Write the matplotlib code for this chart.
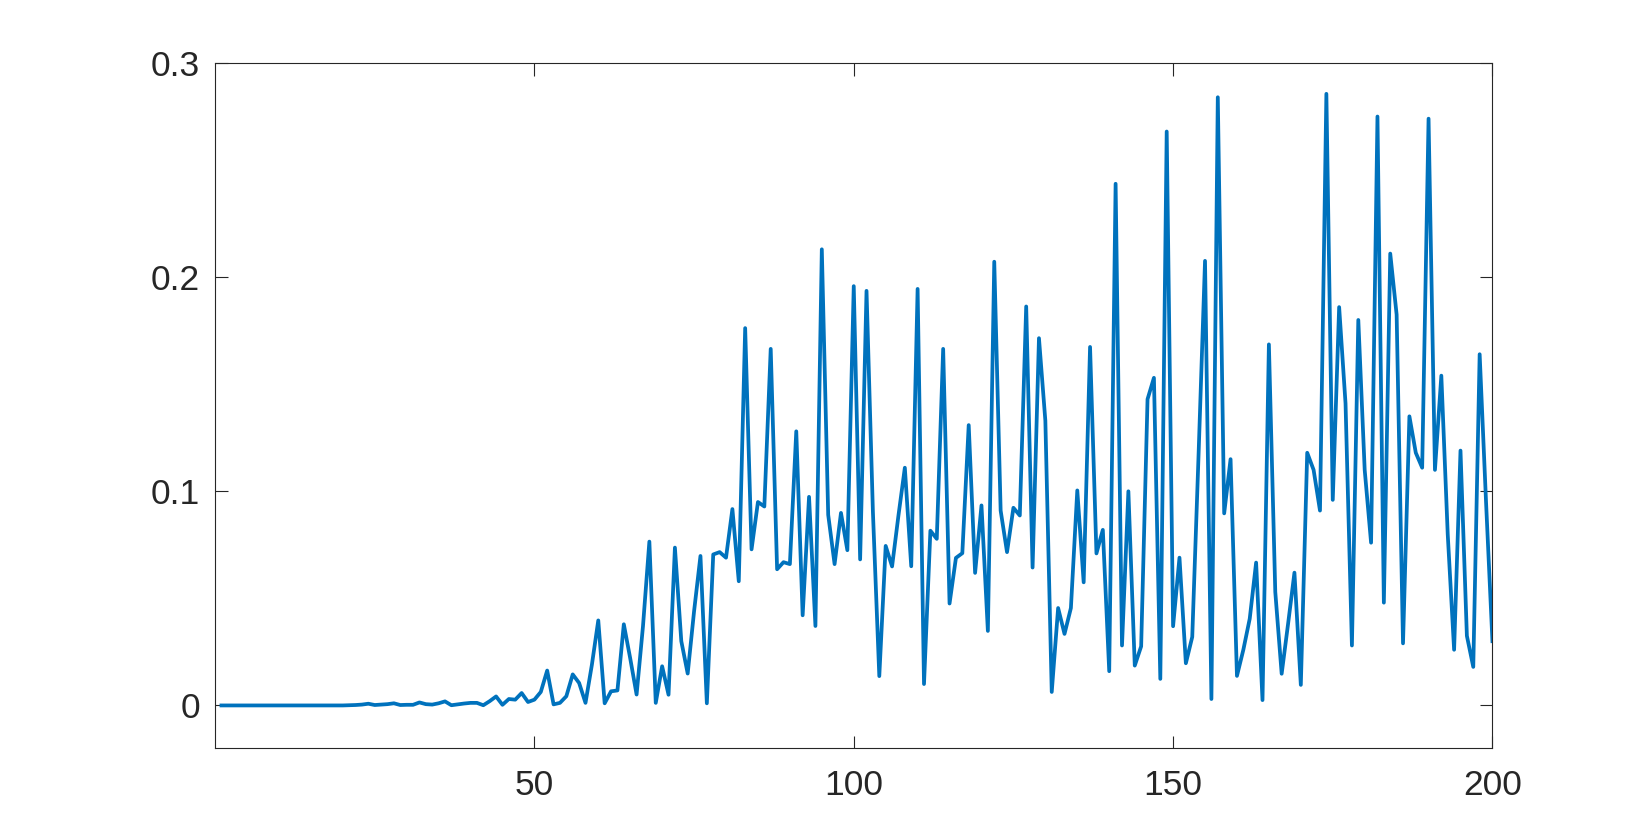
import numpy as np
import matplotlib.pyplot as plt

# DATA (x = 1..200)
x = np.arange(1, 201)
y_start = [0.0] * 20
y_21_60 = [0.0001, 0.0002, 0.0004, 0.0008, 0.0002, 0.0004, 0.0006, 0.001, 0.0002, 0.0003,
           0.0003, 0.0014, 0.0006, 0.0004, 0.001, 0.0019, 0.0001, 0.0005, 0.0009, 0.0012,
           0.0012, 0.0001, 0.002, 0.0042, 0.0003, 0.003, 0.0027, 0.0058, 0.0016, 0.0027,
           0.0063, 0.0163, 0.0005, 0.0012, 0.0043, 0.0145, 0.0105, 0.0012, 0.019, 0.0397]
y_61_100 = [0.001, 0.0066, 0.007, 0.0379, 0.022, 0.0051, 0.037, 0.0765, 0.0012, 0.0183,
            0.005, 0.0737, 0.030, 0.0149, 0.044, 0.0698, 0.001, 0.0705, 0.0716, 0.069,
            0.0917, 0.058, 0.1762, 0.0729, 0.095, 0.0929, 0.1665, 0.0636, 0.0669, 0.066,
            0.128, 0.0421, 0.0974, 0.0371, 0.213, 0.089, 0.066, 0.0899, 0.0725, 0.1958]
y_101_140 = [0.0682, 0.1936, 0.0904, 0.0137, 0.0745, 0.0649, 0.0887, 0.111, 0.065, 0.1945,
             0.010, 0.0816, 0.0778, 0.1665, 0.0476, 0.0689, 0.0711, 0.1309, 0.0619, 0.0934,
             0.0348, 0.2072, 0.091, 0.0716, 0.0923, 0.0887, 0.1863, 0.0644, 0.1715, 0.133,
             0.0063, 0.0455, 0.0334, 0.0455, 0.1004, 0.0575, 0.1674, 0.071, 0.082, 0.016]
y_141_180 = [0.2436, 0.028, 0.100, 0.0186, 0.0276, 0.143, 0.153, 0.0124, 0.268, 0.037,
             0.069, 0.0197, 0.032, 0.118, 0.2076, 0.003, 0.284, 0.0897, 0.115, 0.0138,
             0.026, 0.0405, 0.0667, 0.0025, 0.1686, 0.053, 0.0148, 0.038, 0.062, 0.0096,
             0.118, 0.11, 0.091, 0.2856, 0.096, 0.186, 0.141, 0.028, 0.18, 0.11]
y_181_200 = [0.076, 0.275, 0.048, 0.211, 0.1825, 0.029, 0.135, 0.118, 0.111, 0.274,
             0.11, 0.154, 0.08, 0.026, 0.119, 0.0325, 0.018, 0.164, 0.095, 0.030]
y = np.array(y_start + y_21_60 + y_61_100 + y_101_140 + y_141_180 + y_181_200)

x_ticks = [50, 100, 150, 200]
y_ticks = [0, 0.1, 0.2, 0.3]
y_labels = ['0', '0.1', '0.2', '0.3']

plt.rcParams['font.family'] = ['Liberation Sans', 'DejaVu Sans']
dark = '#262626'

fig = plt.figure(figsize=(16.48, 8.4), dpi=100)
ax = fig.add_axes([0.1305, 0.1092, 0.7751, 0.8158])
ax.plot(x, y, color='#0072BD', linewidth=2.7)

ax.set_xlim(0, 200)
ax.set_ylim(-0.02, 0.3)
ax.set_xticks(x_ticks)
ax.set_xticklabels([str(t) for t in x_ticks])
ax.set_yticks(y_ticks)
ax.set_yticklabels(y_labels)

ax.tick_params(direction='in', length=9, width=0.8, colors=dark, labelsize=25.5,
               top=True, right=True)
ax.tick_params(axis='x', pad=15)
ax.tick_params(axis='y', pad=11)
for s in ax.spines.values():
    s.set_color(dark)
    s.set_linewidth(0.8)

fig.savefig('out.png', dpi=100)
